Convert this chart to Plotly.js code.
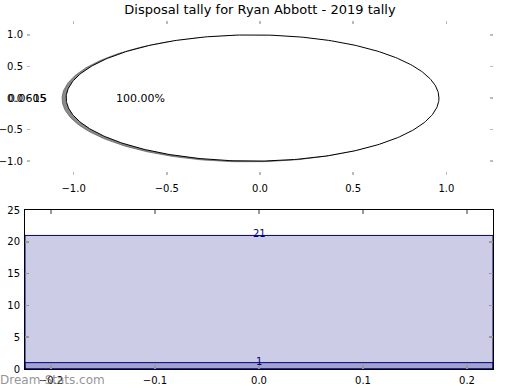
<!DOCTYPE html>
<html><head><meta charset="utf-8">
<script src="https://cdn.plot.ly/plotly-3.0.1.min.js"></script>
<style>html,body{margin:0;padding:0;background:#fff}#chart{width:520px;height:390px}</style>
</head><body><div id="chart"></div>
<script>
// ---- data ----
const chartTitle = "Disposal tally for Ryan Abbott - 2019 tally";
const pieValues = [1];
const piePercentLabels = ["100.00%"];
const pieOuterLabels = ["0.0605", "15"];
const pieCenterX = -0.04;
const barCategories = [0];
const barTotals = [21];
const barBase = [1];
const barTickVals = [-0.2, -0.1, 0.0, 0.1, 0.2];
const pieTickVals = [-1.0, -0.5, 0.0, 0.5, 1.0];
const watermark = "Dream-Stats.com";

// ---- build pie wedge geometry from values ----
const total = pieValues.reduce((a, b) => a + b, 0);
function wedge(frac, start, cx, cy) {
  const xs = [], ys = [];
  const n = Math.max(2, Math.round(360 * frac));
  const full = frac >= 0.9999;
  if (!full) { xs.push(cx); ys.push(cy); }
  for (let i = 0; i <= n; i++) {
    const a = (start + 2 * Math.PI * frac * i / n);
    xs.push(cx + Math.cos(a)); ys.push(cy + Math.sin(a));
  }
  if (!full) { xs.push(cx); ys.push(cy); }
  return {xs, ys};
}
const traces = [];
const annotations = [];
let ang = 0;
pieValues.forEach((v, i) => {
  const f = v / total;
  const sh = wedge(f, ang, pieCenterX - 0.022, -0.012);
  traces.push({type: 'scatter', x: sh.xs, y: sh.ys, mode: 'lines', fill: 'toself',
    fillcolor: 'rgba(90,90,90,0.7)', line: {color: 'rgba(90,90,90,0.7)', width: 1},
    xaxis: 'x', yaxis: 'y', hoverinfo: 'skip', showlegend: false});
  const w = wedge(f, ang, pieCenterX, 0);
  traces.push({type: 'scatter', x: w.xs, y: w.ys, mode: 'lines', fill: 'toself',
    fillcolor: '#ffffff', line: {color: '#000000', width: 1},
    xaxis: 'x', yaxis: 'y', hoverinfo: 'skip', showlegend: false});
  const mid = ang + Math.PI * f;
  annotations.push({x: pieCenterX + 0.6 * Math.cos(mid), y: 0.6 * Math.sin(mid),
    xref: 'x', yref: 'y', text: piePercentLabels[i], showarrow: false,
    font: {size: 11, color: '#000'}, xanchor: 'center', yanchor: 'middle'});
  pieOuterLabels.forEach((t) => {
    annotations.push({x: pieCenterX + 1.1 * Math.cos(mid), y: 1.1 * Math.sin(mid), xref: 'x', yref: 'y', text: t, showarrow: false,
      font: {size: 11, color: '#000'}, xanchor: 'right', yanchor: 'middle', borderpad: 0});
  });
  ang += 2 * Math.PI * f;
});

// bars
traces.push({type: 'bar', x: barCategories, y: barTotals, width: 0.45,
  marker: {color: 'rgba(0,0,128,0.2)', line: {color: '#000080', width: 1}},
  xaxis: 'x2', yaxis: 'y2', hoverinfo: 'skip', showlegend: false});
traces.push({type: 'bar', x: barCategories, y: barBase, width: 0.45,
  marker: {color: 'rgba(0,0,128,0.2)', line: {color: '#000080', width: 1}},
  xaxis: 'x2', yaxis: 'y2', hoverinfo: 'skip', showlegend: false});

barTotals.concat(barBase).forEach(v => {
  annotations.push({x: barCategories[0], y: v, xref: 'x2', yref: 'y2', text: String(v),
    showarrow: false, font: {size: 10, color: '#000080'}, xanchor: 'center', yanchor: 'bottom', yshift: -6});
});
annotations.push({x: 0, y: 0, xref: 'paper', yref: 'paper', xanchor: 'left', yanchor: 'bottom',
  text: watermark, showarrow: false, font: {size: 12, color: 'rgba(120,120,120,0.8)'}, yshift: 1, xshift: -2});

const tickFont = {family: 'DejaVu Sans', size: 10, color: '#000'};
const fmt = v => v.toFixed(1).replace('-', '\u2212');
const layout = {
  width: 520, height: 390,
  margin: {l: 0, r: 0, t: 0, b: 0},
  paper_bgcolor: '#fff', plot_bgcolor: 'rgba(0,0,0,0)',
  font: {family: 'DejaVu Sans'},
  title: {text: chartTitle, font: {family: 'DejaVu Sans', size: 13, color: '#000'}, x: 0.5, xanchor: 'center', y: 0.975, yanchor: 'middle'},
  barmode: 'overlay',
  xaxis: {domain: [27/520, 493/520], range: [-1.25, 1.25], tickvals: pieTickVals, ticktext: pieTickVals.map(fmt),
    showgrid: false, zeroline: false, showline: false, ticks: 'inside', ticklen: 3, tickcolor: '#bbb', tickwidth: 1.5, mirror: 'ticks',
    tickfont: tickFont, anchor: 'y', ticklabelstandoff: 6, fixedrange: true},
  yaxis: {domain: [1 - 175/390, 1 - 21/390], range: [-1.22, 1.22], tickvals: pieTickVals, ticktext: pieTickVals.map(fmt),
    showgrid: false, zeroline: false, showline: false, ticks: 'inside', ticklen: 3, tickcolor: '#bbb', tickwidth: 1.5, mirror: 'ticks',
    tickfont: tickFont, anchor: 'x', ticklabelstandoff: 3, fixedrange: true},
  xaxis2: {domain: [25/520, 493/520], range: [-0.225, 0.225], tickvals: barTickVals, ticktext: barTickVals.map(fmt),
    showgrid: false, zeroline: false, showline: true, linecolor: '#000', linewidth: 1, mirror: 'allticks', ticks: 'inside', ticklen: 4, tickcolor: '#999', tickwidth: 1.5,
    tickfont: tickFont, anchor: 'y2', ticklabelstandoff: 2, fixedrange: true},
  yaxis2: {domain: [1 - 369/390, 1 - 210/390], range: [0, 25], tickvals: [0, 5, 10, 15, 20, 25],
    showgrid: false, zeroline: false, showline: true, linecolor: '#000', linewidth: 1, mirror: 'allticks', ticks: 'inside', ticklen: 4, tickcolor: '#999', tickwidth: 1.5,
    tickfont: tickFont, anchor: 'x2', ticklabelstandoff: 2, fixedrange: true},
  annotations: annotations
};
Plotly.newPlot('chart', traces, layout, {staticPlot: true, displayModeBar: false});
</script></body></html>
